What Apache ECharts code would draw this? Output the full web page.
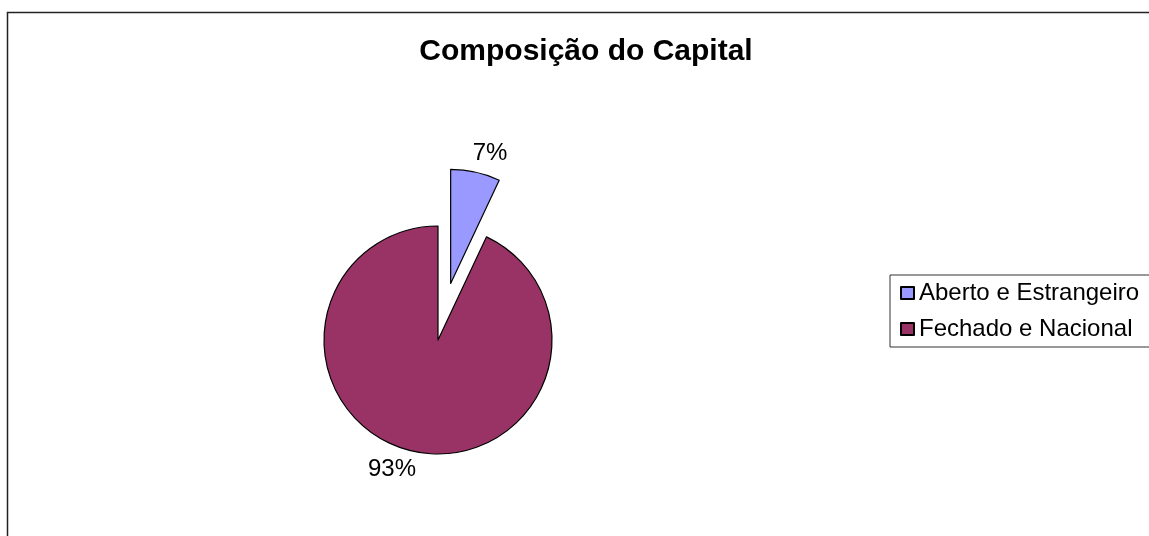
<!DOCTYPE html>
<html>
<head>
<meta charset="utf-8">
<script src="https://cdn.jsdelivr.net/npm/echarts@6/dist/echarts.min.js"></script>
<style>
  html, body { margin: 0; padding: 0; background: #fff; }
  #chart { width: 1149px; height: 536px; }
</style>
</head>
<body>
<div id="chart"></div>
<script>
// dados do gráfico
const categories = ['Aberto e Estrangeiro', 'Fechado e Nacional']
const values = [7, 93]
const colors = ['#9999ff', '#993366']

const font = '"Liberation Sans", Arial, sans-serif'

let myChart = echarts.init(document.getElementById('chart'))

let option = {
  animation: false,
  backgroundColor: '#fff',
  title: {
    text: 'Composição do Capital',
    left: 581,
    top: 32,
    textAlign: 'center',
    textStyle: {
      fontFamily: font,
      fontSize: 30,
      fontWeight: 'bold',
      color: '#000'
    }
  },
  legend: {
    orient: 'vertical',
    left: 890,
    top: 275,
    data: categories,
    icon: 'rect',
    itemWidth: 13,
    itemHeight: 12,
    itemGap: 12,
    padding: [6, 14, 6, 10],
    borderColor: '#333',
    borderWidth: 1,
    textStyle: {
      fontFamily: font,
      fontSize: 24,
      color: '#000'
    }
  },
  graphic: [
    {
      // moldura do gráfico
      type: 'rect',
      shape: { x: 7.5, y: 12.5, width: 1200, height: 600 },
      style: { fill: 'none', stroke: '#222', lineWidth: 1.5 },
      silent: true
    }
  ],
  series: [
    {
      type: 'pie',
      center: [438, 340],
      radius: 114,
      startAngle: 90,
      clockwise: true,
      selectedMode: 'single',
      selectedOffset: 58,
      itemStyle: {
        borderColor: '#000',
        borderWidth: 1.2
      },
      label: {
        show: true,
        position: 'outside',
        formatter: '{d}%',
        fontFamily: font,
        fontSize: 24,
        color: '#000',
        distanceToLabelLine: -7
      },
      labelLine: {
        show: false,
        length: 19,
        length2: 0
      },
      emphasis: { disabled: true },
      data: categories.map((name, i) => ({
        name: name,
        value: values[i],
        selected: i === 0,
        itemStyle: { color: colors[i] }
      }))
    }
  ]
}

myChart.setOption(option)
</script>
</body>
</html>
